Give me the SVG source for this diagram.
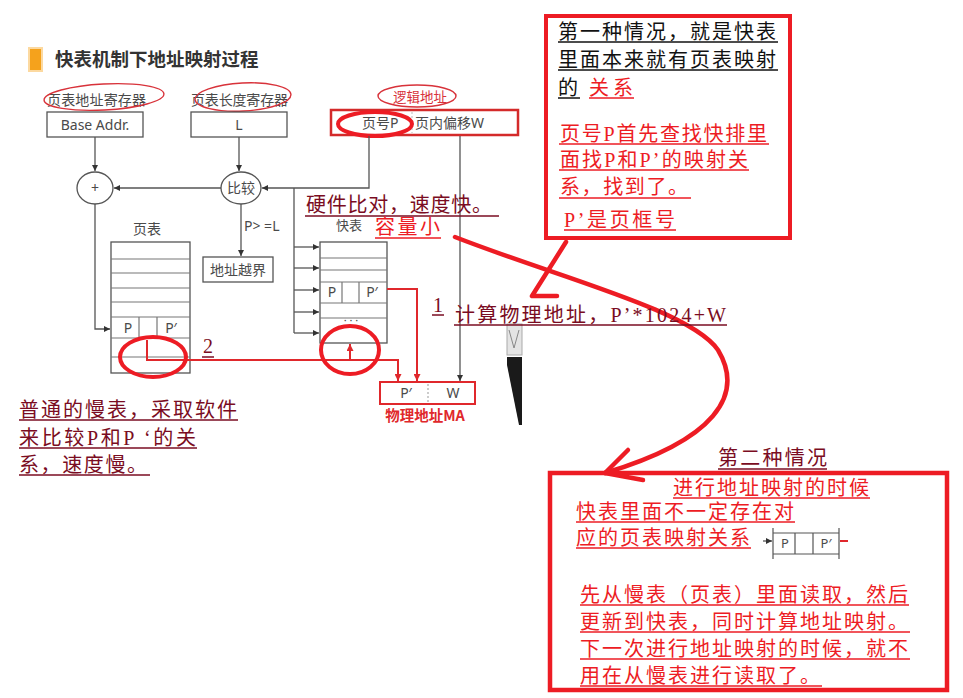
<svg xmlns="http://www.w3.org/2000/svg" width="963" height="698" viewBox="0 0 963 698">
<style>
.d{font-family:"Noto Sans","Noto Sans CJK SC",sans-serif;font-size:14px;fill:#4a4a4a}
.dc{text-anchor:middle}
.box{fill:#fff;stroke:#555;stroke-width:1.3}
.ln{fill:none;stroke:#555;stroke-width:1.3}
.tl{fill:none;stroke:#777;stroke-width:1.2}
.rl{fill:none;stroke:#e0282c;stroke-width:2}
.re{fill:none;stroke:#ED1C24;stroke-width:4}
.rt{fill:none;stroke:#d8323a;stroke-width:1.4}
.big{fill:none;stroke:#ED1C24;stroke-width:4.5;stroke-linecap:round;stroke-linejoin:round}
.a{font-family:"Liberation Serif","Noto Sans CJK SC",serif;font-size:20px}
.m{fill:#7a0c22}
.r{fill:#ED1C24}
.k{fill:#111}
.um{stroke:#7a0c22;stroke-width:1.5}
.ur{stroke:#ED1C24;stroke-width:1.5}
.uk{stroke:#111;stroke-width:1.5}
</style>
<defs>
<marker id="ag" viewBox="0 0 10 10" refX="10" refY="5" markerWidth="6" markerHeight="6" markerUnits="userSpaceOnUse" orient="auto"><path d="M0,0 L10,5 L0,10 z" fill="#333"/></marker>
<marker id="ar" viewBox="0 0 10 10" refX="10" refY="5" markerWidth="7" markerHeight="7" markerUnits="userSpaceOnUse" orient="auto"><path d="M0,0 L10,5 L0,10 z" fill="#e0282c"/></marker>
</defs>
<rect width="963" height="698" fill="#fff"/>

<g id="title">
<rect x="29" y="48" width="13" height="23" fill="#f5a21c" stroke="#fcd9a0" stroke-width="2"/>
<text x="55" y="66" style="font-family:'Noto Sans CJK SC',sans-serif;font-size:18.5px;font-weight:bold;fill:#333">快表机制下地址映射过程</text>
</g>

<g id="reg-base">
<text class="d" x="47" y="105" textLength="99">页表地址寄存器</text>
<ellipse class="rt" cx="104" cy="97" rx="60" ry="13" transform="rotate(-3 104 97)"/>
<rect class="box" x="47" y="112" width="96" height="25"/>
<text class="d dc" x="95" y="130">Base Addr.</text>
</g>

<g id="reg-len">
<text class="d" x="191" y="105" textLength="97">页表长度寄存器</text>
<ellipse class="rt" cx="243" cy="97" rx="48" ry="14" transform="rotate(-3 243 97)"/>
<rect class="box" x="191" y="112" width="96" height="25"/>
<text class="d dc" x="239" y="130">L</text>
</g>

<g id="logical-addr">
<text x="420" y="102" class="dc" style="font-family:'Noto Sans CJK SC',sans-serif;font-size:13.5px;fill:#d8323a">逻辑地址</text>
<ellipse class="rt" cx="417" cy="96" rx="39" ry="11"/>
<rect x="331" y="110" width="187" height="25" fill="#fff" stroke="#d42a2a" stroke-width="2.5"/>
<line x1="412" y1="112" x2="412" y2="133" stroke="#bbb" stroke-width="1" stroke-dasharray="2,2"/>
<text class="d" x="362" y="128">页号P</text>
<text class="d" x="415" y="128">页内偏移W</text>
<ellipse cx="375" cy="124" rx="37" ry="12" fill="none" stroke="#ED1C24" stroke-width="4"/>
</g>

<g id="adder">
<ellipse class="box" cx="95" cy="188" rx="18" ry="16"/>
<text class="d dc" x="95" y="193">+</text>
</g>

<g id="compare">
<ellipse class="box" cx="241" cy="188" rx="20" ry="16"/>
<text class="d dc" x="241" y="193">比较</text>
<text class="d" x="244" y="231">P&gt; =L</text>
</g>

<g id="out-of-bounds">
<rect class="box" x="203" y="257" width="70" height="25"/>
<text class="d dc" x="238" y="275">地址越界</text>
</g>

<g id="page-table">
<text class="d dc" x="147" y="234">页表</text>
<rect class="box" x="111" y="242" width="79" height="131"/>
<path class="tl" d="M111,259 H190 M111,273 H190 M111,288 H190 M111,302 H190 M111,317 H190 M111,338 H190 M111,357 H190 M139,317 V338 M157,317 V338"/>
<text class="d dc" x="128" y="333">P</text>
<text class="d dc" x="171" y="333">P′</text>
</g>

<g id="tlb">
<text class="d dc" x="349" y="230" style="font-size:13px">快表</text>
<rect class="box" x="320" y="242" width="67" height="101"/>
<path class="tl" d="M320,258 H387 M320,270 H387 M320,282 H387 M320,303 H387 M320,318 H387 M342,282 V303 M359,282 V303"/>
<text class="d dc" x="332" y="297">P</text>
<text class="d dc" x="372" y="297">P′</text>
<text class="d dc" x="351" y="324" style="font-size:11px">·  ·  ·</text>
</g>

<g id="phys-addr">
<rect x="380" y="382" width="95" height="22" fill="#fff" stroke="#e0282c" stroke-width="2"/>
<line x1="428" y1="384" x2="428" y2="402" stroke="#999" stroke-width="1" stroke-dasharray="2,2"/>
<text class="d dc" x="406" y="398">P′</text>
<text class="d dc" x="453" y="398">W</text>
<text x="425" y="421" class="dc" style="font-family:'Noto Sans CJK SC',sans-serif;font-size:14.5px;font-weight:bold;fill:#e0282c">物理地址MA</text>
</g>

<g id="fragment">
<rect x="507" y="324" width="15" height="31" fill="#e4e4e4" stroke="#aaa" stroke-width="1"/>
<path d="M509,330 L514,348 L519,330" fill="none" stroke="#888" stroke-width="1"/>
<path d="M507,357 L522,357 L522,425 L519,425 Q512,390 507,365 z" fill="#1a1a1a"/>
</g>

<g id="connectors">
<path class="ln" d="M95,137 V171" marker-end="url(#ag)"/>
<path class="ln" d="M239,137 V171" marker-end="url(#ag)"/>
<path class="ln" d="M221,188 H114" marker-end="url(#ag)"/>
<path class="ln" d="M369,136 V188 H262" marker-end="url(#ag)"/>
<path class="ln" d="M294,188 V333"/>
<path class="ln" d="M294,247 H319" marker-end="url(#ag)"/>
<path class="ln" d="M294,268 H319" marker-end="url(#ag)"/>
<path class="ln" d="M294,290 H319" marker-end="url(#ag)"/>
<path class="ln" d="M294,312 H319" marker-end="url(#ag)"/>
<path class="ln" d="M294,333 H319" marker-end="url(#ag)"/>
<path class="ln" d="M95,204 V329 H110" marker-end="url(#ag)"/>
<path class="ln" d="M241,204 V256" marker-end="url(#ag)"/>
<path class="ln" d="M460,136 V381" marker-end="url(#ag)"/>
<path class="rl" d="M387,289 H417 V381" marker-end="url(#ar)"/>
<path class="rl" d="M147,340 V360 H398 V381" marker-end="url(#ar)"/>
<path class="rl" d="M350,360 V344" marker-end="url(#ar)"/>
<path class="big" d="M566,242 L532,296 L557,296"/>
<path class="big" d="M455,237 C560,278 690,310 718,350 C745,395 715,440 605,473"/>
<path class="big" d="M628,450 L605,473 L643,480"/>
</g>

<g id="marks">
<ellipse class="re" cx="153" cy="357" rx="33" ry="20"/>
<ellipse class="re" cx="350" cy="350" rx="29" ry="24"/>
</g>

<g id="note-hw">
<text class="a m" x="306" y="212" textLength="186">硬件比对，速度快。</text>
<line class="um" x1="305" y1="216" x2="499" y2="216"/>
<text class="a r" x="375" y="234" textLength="65">容量小</text>
<line class="ur" x1="375" y1="238" x2="441" y2="238"/>
</g>

<g id="note-case1">
<rect x="546" y="16" width="244" height="222" fill="none" stroke="#ED1C24" stroke-width="4"/>
<text class="a k" x="558" y="39" textLength="218">第一种情况，就是快表</text>
<line class="uk" x1="558" y1="42" x2="778" y2="42"/>
<text class="a k" x="558" y="67" textLength="218">里面本来就有页表映射</text>
<line class="uk" x1="558" y1="70" x2="778" y2="70"/>
<text class="a k" x="558" y="95">的</text>
<line class="uk" x1="558" y1="98" x2="580" y2="98"/>
<text class="a r" x="589" y="95" textLength="44">关系</text>
<line class="ur" x1="589" y1="98" x2="634" y2="98"/>
<text class="a r" x="560" y="141" textLength="207">页号P首先查找快排里</text>
<line class="ur" x1="559" y1="144" x2="769" y2="144"/>
<text class="a r" x="560" y="167" textLength="188">面找P和P’的映射关</text>
<line class="ur" x1="559" y1="170" x2="749" y2="170"/>
<text class="a r" x="560" y="194" textLength="128">系，找到了。</text>
<line class="ur" x1="559" y1="198" x2="691" y2="198"/>
<text class="a r" x="564" y="227" textLength="111">P’是页框号</text>
<line class="ur" x1="564" y1="230" x2="676" y2="230"/>
</g>

<g id="note-calc">
<text class="a m" x="433" y="312">1</text>
<line class="um" x1="432" y1="315" x2="444" y2="315"/>
<text class="a m" x="455" y="322" textLength="271">计算物理地址，P’*1024+W</text>
<line class="um" x1="454" y1="325" x2="727" y2="325"/>
</g>

<g id="note-2">
<text class="a m" x="203" y="353">2</text>
<line class="um" x1="202" y1="357" x2="214" y2="357"/>
</g>

<g id="note-slow">
<text class="a m" x="19" y="417" textLength="218">普通的慢表，采取软件</text>
<line class="um" x1="19" y1="420" x2="238" y2="420"/>
<text class="a m" x="19" y="445" textLength="177">来比较P和P ‘的关</text>
<line class="um" x1="19" y1="448" x2="197" y2="448"/>
<text class="a m" x="19" y="472" textLength="128">系，速度慢。</text>
<line class="um" x1="19" y1="475" x2="150" y2="475"/>
</g>

<g id="note-case2">
<text class="a m" x="718" y="465" textLength="109">第二种情况</text>
<line class="um" x1="718" y1="469" x2="827" y2="469"/>
<rect x="550" y="473" width="397" height="217" fill="none" stroke="#ED1C24" stroke-width="4.5"/>
<text class="a r" x="673" y="495" textLength="196">进行地址映射的时候</text>
<line class="ur" x1="673" y1="498" x2="870" y2="498"/>
<text class="a r" x="576" y="519" textLength="218">快表里面不一定存在对</text>
<line class="ur" x1="576" y1="522" x2="795" y2="522"/>
<text class="a r" x="576" y="545" textLength="174">应的页表映射关系</text>
<line class="ur" x1="576" y1="548" x2="751" y2="548"/>
<g id="mini-row">
<path class="ln" d="M763,541 H772" marker-end="url(#ag)"/>
<path class="tl" d="M773,528 V559 M839,528 V559 M773,533 H839 M773,554 H839 M795,533 V554 M813,533 V554" style="stroke:#555"/>
<line x1="840" y1="541" x2="848" y2="541" stroke="#e0282c" stroke-width="2"/>
<text class="d dc" x="785" y="548" style="font-size:13px">P</text>
<text class="d dc" x="826" y="548" style="font-size:13px">P′</text>
</g>
<text class="a r" x="580" y="602" textLength="328">先从慢表（页表）里面读取，然后</text>
<line class="ur" x1="580" y1="605" x2="909" y2="605"/>
<text class="a r" x="580" y="629" textLength="328">更新到快表，同时计算地址映射。</text>
<line class="ur" x1="580" y1="632" x2="910" y2="632"/>
<text class="a r" x="580" y="656" textLength="328">下一次进行地址映射的时候，就不</text>
<line class="ur" x1="580" y1="659" x2="910" y2="659"/>
<text class="a r" x="580" y="683" textLength="240">用在从慢表进行读取了。</text>
<line class="ur" x1="580" y1="686" x2="822" y2="686"/>
</g>
</svg>
